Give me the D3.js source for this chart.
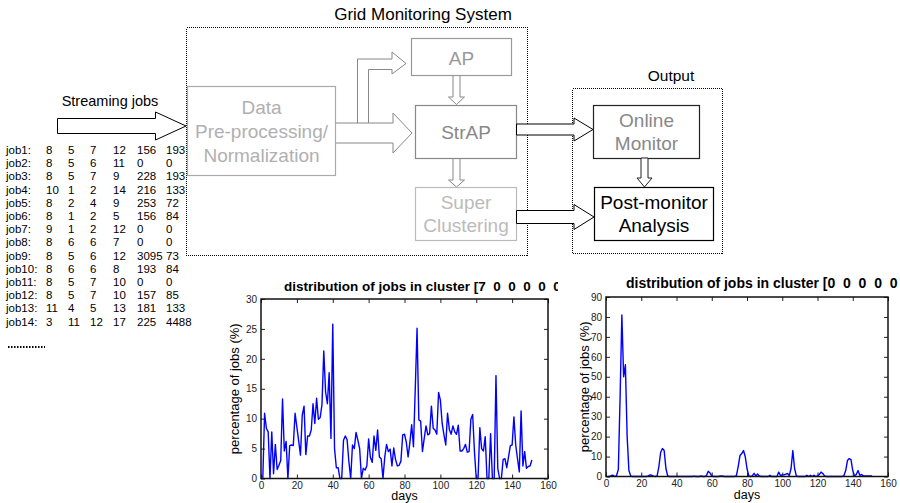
<!DOCTYPE html>
<html>
<head>
<script src="https://d3js.org/d3.v7.min.js"></script>
<style>
    body {margin: 0; background: #fff;}
    svg {display: block; font-family: "Liberation Sans", Arial, sans-serif;}
    .tick text {font-family: "Liberation Sans", Arial, sans-serif; fill: #222;}
</style>
</head>
<body>
<div id="chart"></div>
<script>
// job table
var jobNames = ["job1:", "job2:", "job3:", "job4:", "job5:", "job6:", "job7:",
    "job8:", "job9:", "job10:", "job11:", "job12:", "job13:", "job14:"];
var jobValues = [
    [8, 5, 7, 12, 156, 193],
    [8, 5, 6, 11, 0, 0],
    [8, 5, 7, 9, 228, 193],
    [10, 1, 2, 14, 216, 133],
    [8, 2, 4, 9, 253, 72],
    [8, 1, 2, 5, 156, 84],
    [9, 1, 2, 12, 0, 0],
    [8, 6, 6, 7, 0, 0],
    [8, 5, 6, 12, 3095, 73],
    [8, 6, 6, 8, 193, 84],
    [8, 5, 7, 10, 0, 0],
    [8, 5, 7, 10, 157, 85],
    [11, 4, 5, 13, 181, 133],
    [3, 11, 12, 17, 225, 4488]
];

// chart ticks
var dayTicks = [0, 20, 40, 60, 80, 100, 120, 140, 160];
var pctTicksLeft = [0, 5, 10, 15, 20, 25, 30];
var pctTicksRight = [0, 10, 20, 30, 40, 50, 60, 70, 80, 90];

// percentage of jobs per day (day 1 .. 151), cluster [7 0 0 0 0 0 ...]
var clusterA = [
    0, 10.9, 8.4, 7.8, 0, 7.8, 0.8, 5.7, 1.5, 2.2,
    3.0, 13.3, 4.6, 6.2, 0, 5.5, 5.6, 5.5, 10.9, 8.6,
    6.3, 3.9, 10.6, 12.1, 4.0, 7.1, 7.1, 8.1, 12.5, 9.2,
    13.4, 9.9, 10.2, 12.4, 21.3, 14.5, 12.5, 17.7, 6.7, 25.8,
    5.0, 1.8, 1.8, 0, 0, 6.4, 7.1, 6.5, 2.8, 0,
    5.6, 5.0, 7.7, 6.4, 5.0, 0, 1.7, 1.4, 2.1, 6.6,
    3.5, 2.7, 7.1, 4.7, 8.1, 3.6, 3.3, 0, 3.6, 5.7,
    4.5, 4.9, 2.1, 5.1, 3.2, 2.1, 2.2, 2.9, 7.3, 7.4,
    6.1, 3.6, 6.0, 9.0, 5.3, 15.0, 25.1, 9.8, 9.6, 4.5,
    6.7, 8.8, 7.3, 7.5, 12.1, 8.4, 8.1, 7.4, 14.4, 13.1,
    9.2, 7.3, 5.6, 10.9, 8.2, 7.4, 8.8, 7.8, 7.4, 8.9,
    4.6, 4.6, 5.0, 5.7, 4.4, 4.5, 9.9, 10.7, 4.5, 0,
    0, 8.5, 5.0, 4.6, 7.0, 0, 0, 7.5, 0, 0,
    17.2, 1.7, 0, 0, 3.2, 3.3, 1.8, 3.6, 5.5, 5.6,
    10.3, 5.6, 3.3, 1.1, 11.3, 2.1, 4.5, 1.7, 2.0, 2.1,
    3.1
];

// percentage of jobs per day (day 1 .. 151), cluster [0 0 0 0 0 0 ...]
var clusterB = [
    0, 0, 0.5, 0.6, 0, 0.5, 3.5, 40, 81, 50,
    56, 20, 3, 0.3, 0, 0, 0, 0, 0, 0,
    0, 0, 0, 0.3, 0.8, 0.6, 0.2, 0, 0.3, 5,
    12, 14, 13, 4, 0.3, 0, 0, 0, 0, 0,
    0, 0, 0, 0, 0, 0, 0, 0, 0, 0.2,
    0, 0, 0, 0.3, 0, 0, 0.5, 2.6, 1.8, 0.3,
    0, 0, 0, 0, 0.3, 0.3, 0, 0, 0, 0,
    0, 0, 0, 0.5, 5, 10.5, 11.5, 13, 10, 4,
    0.3, 0, 0.3, 1.6, 0.3, 1.2, 0.3, 0, 0, 0,
    0, 0, 0.6, 0, 0, 0, 0, 2.2, 0.5, 0.8,
    0.8, 1.2, 1.5, 0.5, 4, 13, 4, 0.3, 0, 0,
    0, 0, 0, 0.6, 0, 0.6, 0, 0.6, 0, 0.3,
    1, 2.2, 1.5, 0.3, 0, 0, 0, 0, 0, 0,
    0, 0, 0, 0, 0.5, 3, 8, 9, 8.5, 3,
    0.3, 1, 3, 0.6, 1, 0.3, 0.3, 0.3, 0.3, 0.3,
    0.3
];

var svg = d3.select("#chart").append("svg")
    .attr("width", 900)
    .attr("height", 503);

svg.append("rect").attr("width", 900).attr("height", 503).attr("fill", "#fff");

// ---------- diagram ----------
function rightArrow(g, x0, xh, x1, cy, sw, hw, color)
{
    var pts = [[x0, cy - sw], [xh, cy - sw], [xh, cy - hw], [x1, cy],
               [xh, cy + hw], [xh, cy + sw], [x0, cy + sw]];
    g.append("polygon")
        .attr("points", pts.map(p => p.join(",")).join(" "))
        .attr("fill", "#fff").attr("stroke", color).attr("stroke-width", 1);
}

function downArrow(g, cx, y0, yh, y1, sw, hw, color)
{
    var pts = [[cx - sw, y0], [cx - sw, yh], [cx - hw, yh], [cx, y1],
               [cx + hw, yh], [cx + sw, yh], [cx + sw, y0]];
    g.append("polygon")
        .attr("points", pts.map(p => p.join(",")).join(" "))
        .attr("fill", "#fff").attr("stroke", color).attr("stroke-width", 1);
}

function box(g, x, y, w, h, stroke, lines, textColor, lineY)
{
    g.append("rect").attr("x", x).attr("y", y).attr("width", w).attr("height", h)
        .attr("fill", "#fff").attr("stroke", stroke).attr("stroke-width", 1.2);
    lines.forEach(function(t, i) {
        g.append("text").attr("x", x + w / 2).attr("y", lineY[i])
            .attr("text-anchor", "middle").attr("font-size", 19)
            .attr("fill", textColor).text(t);
    });
}

var diag = svg.append("g");

// dotted frames
diag.append("rect").attr("x", 186.5).attr("y", 27.5).attr("width", 341).attr("height", 228)
    .attr("fill", "none").attr("stroke", "#000").attr("stroke-dasharray", "1,1")
    .attr("shape-rendering", "crispEdges");
diag.append("text").attr("x", 423).attr("y", 20).attr("text-anchor", "middle")
    .attr("font-size", 17).text("Grid Monitoring System");

diag.append("rect").attr("x", 572.5).attr("y", 88.5).attr("width", 150).attr("height", 165)
    .attr("fill", "none").attr("stroke", "#000").attr("stroke-dasharray", "1,1")
    .attr("shape-rendering", "crispEdges");
diag.append("text").attr("x", 671).attr("y", 81).attr("text-anchor", "middle")
    .attr("font-size", 15.5).text("Output");

// streaming jobs
diag.append("text").attr("x", 110).attr("y", 106).attr("text-anchor", "middle")
    .attr("font-size", 14.5).text("Streaming jobs");
rightArrow(diag, 57.5, 155.5, 186, 126, 7.5, 14, "#000");

// internal arrows
diag.append("polyline")
    .attr("points", "357.5,123 357.5,59 392,59 392,52 406,63.5 392,74 392,69.5 368.5,69.5 368.5,123")
    .attr("fill", "#fff").attr("stroke", "#888").attr("stroke-width", 1);
rightArrow(diag, 335, 393, 412, 133, 10, 20, "#888");
downArrow(diag, 456.5, 75, 97, 104.5, 3.5, 8, "#888");
downArrow(diag, 456.5, 158, 180, 187, 3.5, 8, "#888");

// boxes
box(diag, 187.5, 86.5, 148, 89, "#aaa", ["Data", "Pre-processing/", "Normalization"], "#b0b0b0", [114, 138, 162]);
box(diag, 411.5, 38.5, 100, 37, "#999", ["AP"], "#999", [65]);
box(diag, 415.5, 105.5, 101, 53, "#888", ["StrAP"], "#888", [139]);
box(diag, 415.5, 187.5, 101, 53, "#bbb", ["Super", "Clustering"], "#bbb", [209, 232]);

// output side
rightArrow(diag, 516.5, 574, 593, 129.5, 5.5, 11.5, "#000");
rightArrow(diag, 516.5, 574, 594, 217, 6.5, 12.5, "#000");
box(diag, 593.5, 105.5, 106, 53, "#222", ["Online", "Monitor"], "#888", [127, 150]);
downArrow(diag, 644.5, 158, 178, 187, 3.5, 7.5, "#222");
box(diag, 594.5, 187.5, 119, 53, "#000", ["Post-monitor", "Analysis"], "#000", [209, 232]);

// job table
var colX = [46, 68, 90, 113, 137, 166];
var table = svg.append("g").attr("font-size", 11.5).attr("fill", "#000");
jobNames.forEach(function(name, i) {
    var y = 154 + i * 13.2;
    table.append("text").attr("x", 6).attr("y", y).text(name);
    jobValues[i].forEach(function(v, j) {
        table.append("text").attr("x", colX[j]).attr("y", y).text(v);
    });
});
table.append("line").attr("x1", 8).attr("x2", 45).attr("y1", 347).attr("y2", 347)
    .attr("stroke", "#000").attr("stroke-width", 2).attr("stroke-dasharray", "1.5,1.5");

// ---------- charts ----------
function drawChart(opts)
{
    var x = d3.scaleLinear().domain([0, 160]).range([opts.left, opts.right]);
    var y = d3.scaleLinear().domain([0, opts.ymax]).range([opts.bottom, opts.top]);
    var g = svg.append("g");

    g.append("rect").attr("x", opts.left).attr("y", opts.top)
        .attr("width", opts.right - opts.left).attr("height", opts.bottom - opts.top)
        .attr("fill", "#fff");

    var axB = g.append("g").attr("transform", "translate(0," + opts.bottom + ")")
        .call(d3.axisBottom(x).tickValues(dayTicks).tickSize(-4).tickPadding(3));
    var axT = g.append("g").attr("transform", "translate(0," + opts.top + ")")
        .call(d3.axisTop(x).tickValues(dayTicks).tickSize(-4).tickFormat(""));
    var axL = g.append("g").attr("transform", "translate(" + opts.left + ",0)")
        .call(d3.axisLeft(y).tickValues(opts.yticks).tickSize(-4).tickPadding(4));
    var axR = g.append("g").attr("transform", "translate(" + opts.right + ",0)")
        .call(d3.axisRight(y).tickValues(opts.yticks).tickSize(-4).tickFormat(""));
    [axB, axT, axL, axR].forEach(function(a) {
        a.select(".domain").remove();
        a.selectAll(".tick line").attr("stroke", "#222");
        a.selectAll(".tick text").attr("font-size", 10);
    });

    g.append("path")
        .datum(opts.values)
        .attr("fill", "none")
        .attr("stroke", "#0000ff")
        .attr("stroke-width", 1.4)
        .attr("stroke-linejoin", "round")
        .attr("d", d3.line()
            .x(function(d, i){ return x(i + 1); })
            .y(function(d){ return y(d); })
        );

    g.append("rect").attr("x", opts.left).attr("y", opts.top)
        .attr("width", opts.right - opts.left).attr("height", opts.bottom - opts.top)
        .attr("fill", "none").attr("stroke", "#111").attr("stroke-width", 1.5);

    var clipId = "clip" + opts.id;
    svg.append("clipPath").attr("id", clipId).append("rect")
        .attr("x", 0).attr("y", 0).attr("width", opts.clipRight).attr("height", 503);
    g.append("text").attr("clip-path", "url(#" + clipId + ")")
        .attr("x", opts.titleX).attr("y", opts.titleY)
        .style("white-space", "pre")
        .attr("font-size", opts.titleSize).attr("font-weight", "bold").text(opts.title);

    g.append("text").attr("x", (opts.left + opts.right) / 2).attr("y", opts.xlabelY)
        .attr("text-anchor", "middle").attr("font-size", 12.5).text("days");
    g.append("text")
        .attr("transform", "translate(" + opts.ylabelX + "," + ((opts.top + opts.bottom) / 2) + ") rotate(-90)")
        .attr("text-anchor", "middle").attr("font-size", 13).text("percentage of jobs (%)");
}

drawChart({
    id: "A", left: 261, right: 548, top: 299, bottom: 478.5, ymax: 30,
    yticks: pctTicksLeft, values: clusterA,
    title: "distribution of jobs in cluster [7  0  0  0  0  0  0]",
    titleX: 284, titleY: 291, titleSize: 13.5, clipRight: 558,
    xlabelY: 500, ylabelX: 239
});

drawChart({
    id: "B", left: 606, right: 888, top: 297, bottom: 476.5, ymax: 90,
    yticks: pctTicksRight, values: clusterB,
    title: "distribution of jobs in cluster [0  0  0  0  0  0  0]",
    titleX: 626, titleY: 288, titleSize: 14, clipRight: 900,
    xlabelY: 499, ylabelX: 589
});
</script>
</body>
</html>
